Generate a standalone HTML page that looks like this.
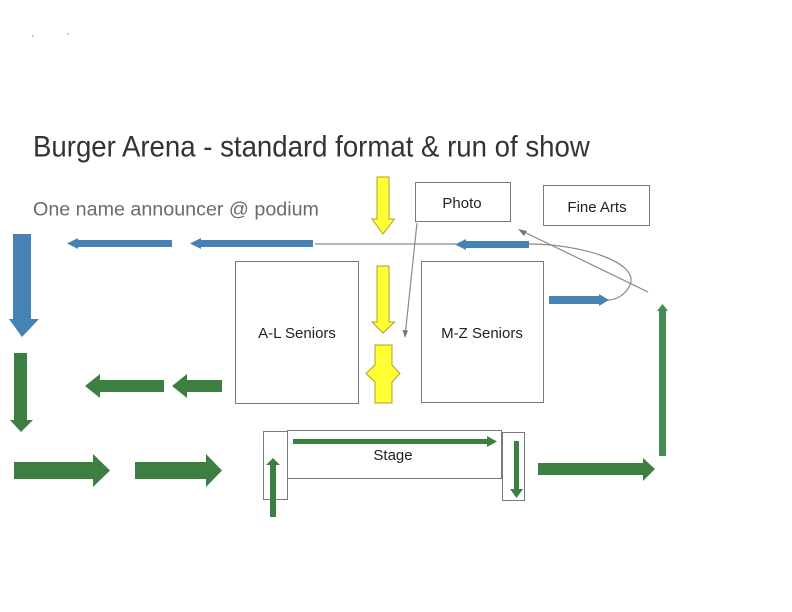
<!DOCTYPE html>
<html>
<head>
<meta charset="utf-8">
<style>
html,body{margin:0;padding:0;background:#fff;}
svg{display:block;}
text{font-family:"Liberation Sans",Arial,sans-serif;}
</style>
</head>
<body>
<svg width="792" height="612" viewBox="0 0 792 612" xmlns="http://www.w3.org/2000/svg">
<rect width="792" height="612" fill="#fff"/>
<!-- specks -->
<circle cx="33" cy="36" r="0.8" fill="#888"/>
<circle cx="68" cy="34" r="0.8" fill="#888"/>

<!-- Title -->
<text transform="translate(33,156.5) scale(1,1.08)" x="0" y="0" font-size="27.6" fill="#333">Burger Arena - standard format &amp; run of show</text>
<text x="33" y="215.5" font-size="19.7" fill="#6b6b6b">One name announcer @ podium</text>

<!-- Boxes -->
<g fill="none" stroke="#7a7a7a" stroke-width="1">
<rect x="415.5" y="182.5" width="95" height="39"/>
<rect x="543.5" y="185.5" width="106" height="40"/>
<rect x="235.5" y="261.5" width="123" height="142"/>
<rect x="421.5" y="261.5" width="122" height="141"/>
<rect x="263.5" y="431.5" width="24" height="68"/>
<rect x="287.5" y="430.5" width="214" height="48"/>
<rect x="502.5" y="432.5" width="22" height="68"/>
</g>
<g font-size="15" fill="#222" text-anchor="middle">
<text x="462" y="208">Photo</text>
<text x="597" y="212">Fine Arts</text>
<text x="297" y="338">A-L Seniors</text>
<text x="482" y="338">M-Z Seniors</text>
<text x="393" y="460">Stage</text>
</g>

<!-- gray lines -->
<g fill="none" stroke="#8a8a8a" stroke-width="1.2">
<line x1="315" y1="244" x2="456" y2="244"/>
<path d="M529 244 C 580 244, 640 262, 630 285 C 625 296, 615 300, 608 300"/>
<line x1="648" y1="292" x2="520" y2="230"/>
<line x1="417" y1="223" x2="405.5" y2="332"/>
</g>
<polygon points="518,229 527,231 524,236" fill="#777"/>
<polygon points="405,338 402.5,330 408,330.5" fill="#777"/>

<!-- Blue arrows -->
<g fill="#4682b4">
<polygon points="13,234 31,234 31,319 39,319 22,337 9,319 13,319"/>
<polygon points="172,240 78,240 78,238 67,243.5 78,249 78,247 172,247"/>
<polygon points="313,240 201,240 201,238 190,243.5 201,249 201,247 313,247"/>
<polygon points="529,241 466,241 466,239 455,244.5 466,250 466,248 529,248"/>
<polygon points="549,296 599,296 599,294 609,300 599,306 599,304 549,304"/>
</g>

<!-- Yellow arrows -->
<g fill="#ffff33" stroke="#a8a030" stroke-width="1">
<polygon points="377,177 389,177 389,219 394.5,219 383,234 372,219 377,219"/>
<polygon points="377,266 389,266 389,322 394.5,322 383,333 372,322 377,322"/>
<polygon points="375,345 392,345 392,365 400,373.5 392,382 392,403 375,403 375,382 366,373.5 375,365"/>
</g>

<!-- Green arrows -->
<g fill="#3d7f40">
<polygon points="14,353 27,353 27,420 33,420 21,432 10,420 14,420"/>
<polygon points="164,380 100,380 100,374 85,386 100,398 100,392 164,392"/>
<polygon points="222,380 187,380 187,374 172,386 187,398 187,392 222,392"/>
<polygon points="14,462 93,462 93,454 110,470.5 93,487 93,479 14,479"/>
<polygon points="135,462 206,462 206,454 222,470.5 206,487 206,479 135,479"/>
<polygon points="270,517 276,517 276,465 280,465 273,458 266,465 270,465"/>
<polygon points="293,439 487,439 487,436 497,441.5 487,447 487,444 293,444"/>
<polygon points="514,441 519,441 519,489 523,489 516.5,498 510,489 514,489"/>
<polygon points="538,463 643,463 643,458 655,469 643,481 643,475 538,475"/>
</g>
<polygon points="659,456 666,456 666,311 668,311 662.5,304 657,311 659,311" fill="#468a55"/>
</svg>
</body>
</html>
